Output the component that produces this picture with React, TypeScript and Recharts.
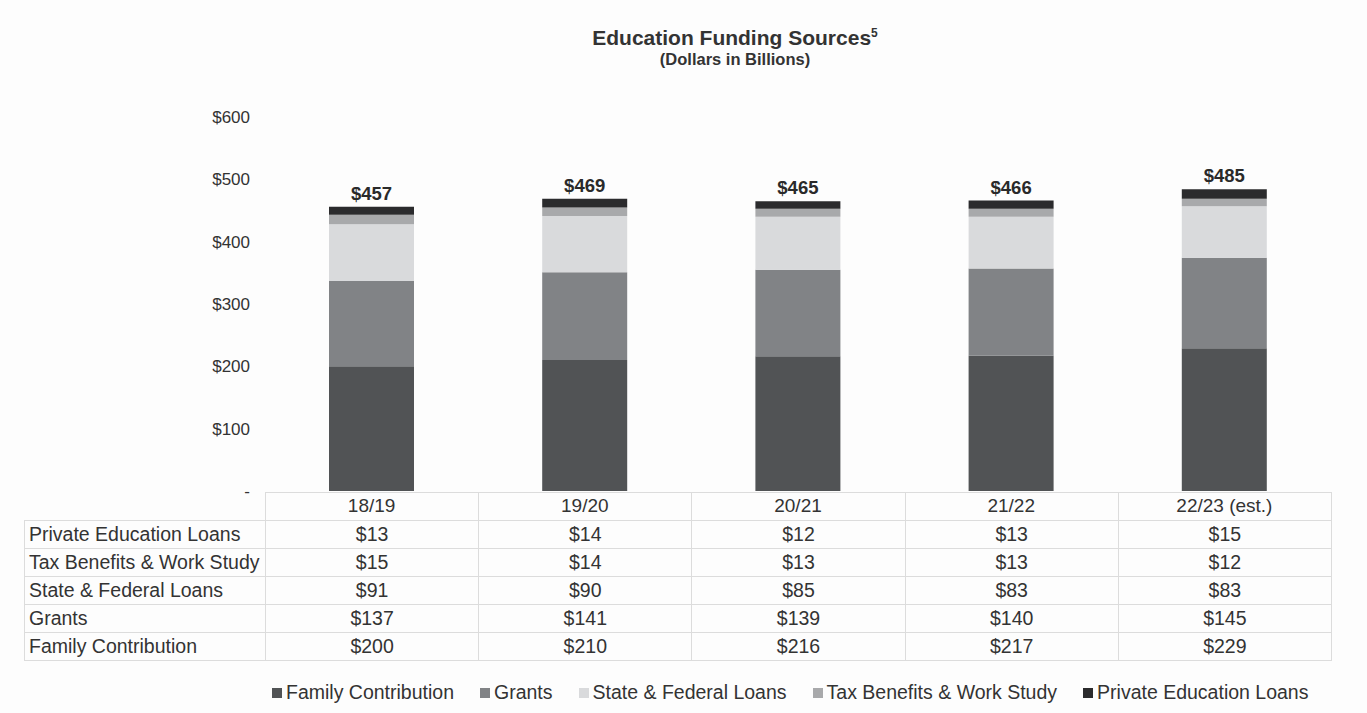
import React from 'react';
import { BarChart, Bar, XAxis, YAxis, LabelList } from 'recharts';

const categories = ['18/19', '19/20', '20/21', '21/22', '22/23 (est.)'];
const familyContribution = [200, 210, 216, 217, 229];
const grants = [137, 141, 139, 140, 145];
const stateFederalLoans = [91, 90, 85, 83, 83];
const taxBenefitsWorkStudy = [15, 14, 13, 13, 12];
const privateEducationLoans = [13, 14, 12, 13, 15];
const totals = [457, 469, 465, 466, 485];
const yTicks = [0, 100, 200, 300, 400, 500, 600];

const SERIES = [
  { key: 'family', name: 'Family Contribution', color: '#515355', values: familyContribution },
  { key: 'grants', name: 'Grants', color: '#818386', values: grants },
  { key: 'state', name: 'State & Federal Loans', color: '#d9dadc', values: stateFederalLoans },
  { key: 'tax', name: 'Tax Benefits & Work Study', color: '#a8a9ab', values: taxBenefitsWorkStudy },
  { key: 'private', name: 'Private Education Loans', color: '#2b2b2d', values: privateEducationLoans },
];

const data = categories.map((cat, i) => {
  const row: Record<string, string | number> = { cat, total: totals[i] };
  SERIES.forEach((s) => { row[s.key] = s.values[i]; });
  return row;
});

const FONT = '"Liberation Sans", Arial, Helvetica, sans-serif';
const TEXT = '#333333';
const GRID = '#dcdcdc';

const cellStyle: React.CSSProperties = {
  border: `1px solid ${GRID}`,
  padding: 0,
  height: 27,
  textAlign: 'center',
};

export default function App() {
  const tableRows = [...SERIES].reverse();

  return (
    <div style={{ position: 'absolute', left: 0, top: 0, width: 1367, height: 713, background: '#fdfdfd', fontFamily: FONT, color: TEXT }}>
      {/* title */}
      <div style={{ position: 'absolute', left: 435, top: 26, width: 600, textAlign: 'center', fontWeight: 700, fontSize: 21, lineHeight: '24px' }}>
        Education Funding Sources<sup style={{ fontSize: 12, verticalAlign: 'top', lineHeight: '14px' }}>5</sup>
      </div>
      <div style={{ position: 'absolute', left: 435, top: 50, width: 600, textAlign: 'center', fontWeight: 700, fontSize: 16.5, lineHeight: '19px' }}>
        (Dollars in Billions)
      </div>

      <div style={{ position: 'absolute', left: 0, top: 0 }}>
        <BarChart
          width={1367}
          height={713}
          data={data}
          margin={{ top: 117, right: 36, left: 185, bottom: 192 }}
        >
          <XAxis
            dataKey="cat"
            height={30}
            axisLine={false}
            tickLine={false}
            tick={{ fontSize: 19, fill: TEXT, fontFamily: FONT }}
          />
          <YAxis
            width={80}
            domain={[0, 600]}
            ticks={yTicks}
            axisLine={false}
            tickLine={false}
            tickMargin={9}
            tick={{ fontSize: 17, fill: TEXT, fontFamily: FONT }}
            tickFormatter={(v: number) => (v === 0 ? '-' : `$${v}`)}
          />
          {SERIES.map((s, idx) => (
            <Bar key={s.key} dataKey={s.key} name={s.name} stackId="a" fill={s.color} barSize={85} isAnimationActive={false}>
              {idx === SERIES.length - 1 && (
                <LabelList
                  dataKey="total"
                  position="top"
                  offset={7}
                  formatter={(v: number) => `$${v}`}
                  style={{ fontSize: 18.5, fontWeight: 700, fill: '#2a2a2a', fontFamily: FONT }}
                />
              )}
            </Bar>
          ))}
        </BarChart>
      </div>

      {/* data table under the bars */}
      <table
        style={{
          position: 'absolute',
          left: 24,
          top: 492,
          borderCollapse: 'collapse',
          tableLayout: 'fixed',
          width: 1307,
          fontSize: 19.5,
          fontFamily: FONT,
          color: TEXT,
          pointerEvents: 'none',
        }}
      >
        <colgroup>
          <col style={{ width: 241 }} />
          {categories.map((c) => <col key={c} style={{ width: 213.2 }} />)}
        </colgroup>
        <tbody>
          <tr>
            <td style={{ ...cellStyle, border: 'none', borderBottom: `1px solid ${GRID}` }} />
            {categories.map((c) => <td key={c} style={{ ...cellStyle, color: 'transparent' }}>{c}</td>)}
          </tr>
          {tableRows.map((s) => (
            <tr key={s.key}>
              <td style={{ ...cellStyle, textAlign: 'left', paddingLeft: 4, whiteSpace: 'nowrap' }}>{s.name}</td>
              {s.values.map((v, i) => <td key={i} style={cellStyle}>${v}</td>)}
            </tr>
          ))}
        </tbody>
      </table>

      {/* legend */}
      <div style={{ position: 'absolute', left: 272, top: 681, display: 'flex', gap: 26, fontSize: 19.5, whiteSpace: 'nowrap' }}>
        {SERIES.map((s) => (
          <div key={s.key} style={{ display: 'flex', alignItems: 'center' }}>
            <span style={{ width: 10, height: 10, background: s.color, marginRight: 4, display: 'inline-block' }} />
            <span>{s.name}</span>
          </div>
        ))}
      </div>
    </div>
  );
}
